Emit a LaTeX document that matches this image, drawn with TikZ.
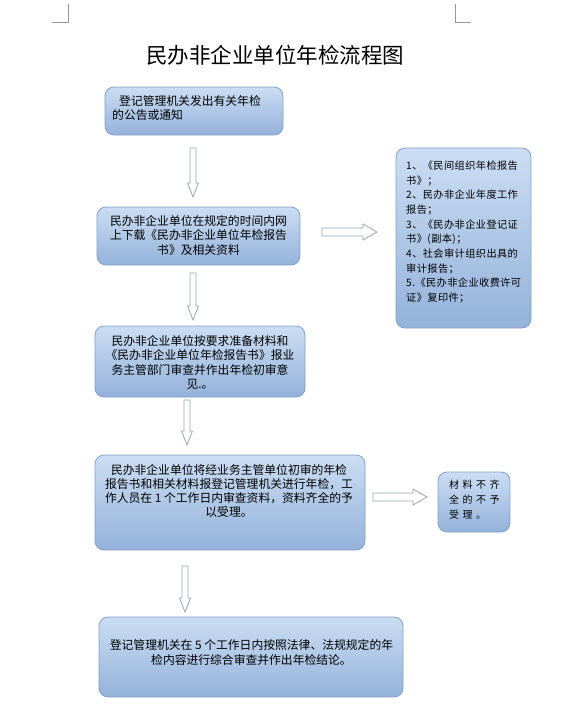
\documentclass[tikz,border=0pt]{standalone}
\usepackage{fontspec}
\newfontfamily\cjk{Noto Sans CJK SC}
\usetikzlibrary{shadings}
\definecolor{boxtop}{RGB}{203,221,243}
\definecolor{boxbot}{RGB}{148,178,218}
\definecolor{boxline}{RGB}{130,158,200}
\definecolor{arrline}{RGB}{150,165,185}
\definecolor{markgray}{RGB}{150,150,150}
\tikzset{
  box/.style={draw=boxline, line width=0.8pt, rounded corners=9pt, top color=boxtop, bottom color=boxbot, inner sep=0pt},
  txt/.style={inner sep=0pt, font=\cjk\fontsize{11.8}{14.3}\selectfont, text=black},
  blk/.style={draw=arrline, line width=0.8pt, fill=white, line join=miter},
  cornermark/.style={draw=markgray, line width=0.6pt}
}
\newcommand{\vblk}[3]{%
  \draw[blk] (#1-3,#2) -- (#1+3,#2) -- (#1+3,#3-14) -- (#1+5.5,#3-14) -- (#1,#3) -- (#1-5.5,#3-14) -- (#1-3,#3-14) -- cycle;}
\newcommand{\hblk}[3]{%
  \draw[blk] (#2,#1-4) -- (#3-14,#1-4) -- (#3-14,#1-8) -- (#3,#1) -- (#3-14,#1+8) -- (#3-14,#1+4) -- (#2,#1+4) -- cycle;}
\begin{document}
\begin{tikzpicture}[x=1pt,y=-1pt]
\useasboundingbox (0,0) rectangle (563,710);
% page corner marks
\draw[cornermark] (52,22) -- (68,22) -- (68,4);
\draw[cornermark] (455,4) -- (455,22) -- (471,22);
% title
\node[inner sep=0pt, font=\cjk\fontsize{21.5}{24}\selectfont] (title) at (275,55) {民办非企业单位年检流程图};
% boxes
\path[box] (105,87) rectangle (283,135);
\node[inner sep=0pt, minimum width=178pt, minimum height=48pt] (b1) at (194,111) {};
\path[box] (97,207) rectangle (300,265);
\node[inner sep=0pt, minimum width=203pt, minimum height=58pt] (b2) at (198.5,236) {};
\path[box] (95,326) rectangle (305,397);
\node[inner sep=0pt, minimum width=210pt, minimum height=71pt] (b3) at (200,361.5) {};
\path[box] (95,455) rectangle (365,550);
\node[inner sep=0pt, minimum width=270pt, minimum height=95pt] (b4) at (230,502.5) {};
\path[box] (99,617) rectangle (403,697);
\node[inner sep=0pt, minimum width=304pt, minimum height=80pt] (b5) at (251,657) {};
\path[box] (396,148) rectangle (531,328);
\node[inner sep=0pt, minimum width=135pt, minimum height=180pt] (r1) at (463.5,238) {};
\path[box] (438,472) rectangle (510,532);
\node[inner sep=0pt, minimum width=72pt, minimum height=60pt] (r2) at (474,502) {};
% texts
\node[txt, anchor=west, align=left] (t1) at (112,108) {\hspace{7pt}登记管理机关发出有关年检\\的公告或通知};
\node[txt, align=center] (t2) at (198.5,235.4) {民办非企业单位在规定的时间内网\\上下载《民办非企业单位年检报告\\书》及相关资料};
\node[txt, align=center] (t3) at (200,362.5) {民办非企业单位按要求准备材料和\\《民办非企业单位年检报告书》报业\\务主管部门审查并作出年检初审意\\见.。};
\node[txt, align=center] (t4) at (229,491) {民办非企业单位将经业务主管单位初审的年检\\报告书和相关材料报登记管理机关进行年检，工\\作人员在 1 个工作日内审查资料，资料齐全的予\\以受理。};
\node[txt, align=center] (t5) at (251.5,652.5) {登记管理机关在 5 个工作日内按照法律、法规规定的年\\检内容进行综合审查并作出年检结论。};
\node[txt, anchor=west, align=left, font=\cjk\fontsize{10.2}{14.7}\selectfont\addfontfeature{LetterSpace=4}] (t6) at (406,232) {1、《民间组织年检报告\\书》；\\2、民办非企业年度工作\\报告；\\3、《民办非企业登记证\\书》(副本)；\\4、社会审计组织出具的\\审计报告；\\5.《民办非企业收费许可\\证》复印件；};
\node[txt, anchor=west, align=left, font=\cjk\fontsize{10}{15}\selectfont\addfontfeature{LetterSpace=35}] (t7) at (449,500) {材料不齐\\全的不予\\受理。};
% block arrows
\vblk{193}{148}{197}
\vblk{193}{273}{320}
\vblk{187}{400}{445}
\vblk{185}{566}{612}
\hblk{232}{322}{377}
\hblk{497}{373}{427}
\end{tikzpicture}
\end{document}
